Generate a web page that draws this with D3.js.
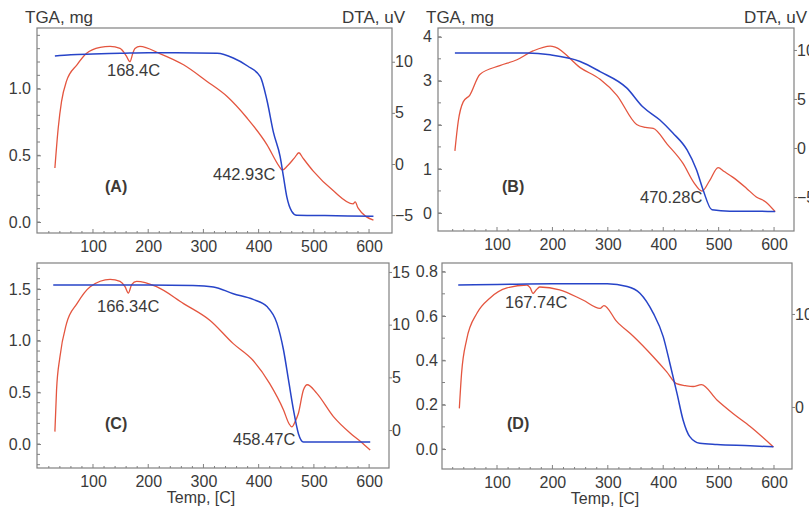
<!DOCTYPE html>
<html><head><meta charset="utf-8">
<script src="https://cdn.jsdelivr.net/npm/d3@7"></script>
<style>
body{margin:0;background:#fff;}
svg{display:block;font-family:"Liberation Sans",Arial,sans-serif;}
</style></head>
<body><svg id="c" width="809" height="507"></svg>
<script>
// ---- data: [temperature C, value] ----
const tempTicks = [100,200,300,400,500,600];

const tgaA = [[31,1.245],[60,1.255],[100,1.26],[150,1.265],[200,1.27],[250,1.27],[325,1.265],[354,1.23],[380,1.17],[403,1.09],[415,0.915],[427,0.67],[439,0.49],[445,0.34],[451,0.19],[460,0.08],[469,0.05],[520,0.048],[608,0.043]];
const dtaA = [[31,-0.4],[37,3.5],[43,6.1],[52,8.1],[71,9.7],[88,10.8],[113,11.4],[131,11.5],[149,11.3],[160,10.6],[167,10.0],[172,10.8],[176,11.3],[185,11.5],[221,10.8],[264,9.7],[306,8.1],[343,6.6],[379,4.5],[415,1.9],[437,-0.2],[443,-0.6],[452,-0.2],[465,0.6],[473,1.1],[480,0.6],[499,-0.7],[535,-2.6],[571,-3.9],[575,-3.7],[580,-4.3],[608,-5.5]];

const tgaB = [[24,3.63],[100,3.63],[154,3.63],[196,3.59],[250,3.44],[286,3.21],[334,2.84],[363,2.41],[394,2.11],[417,1.82],[443,1.43],[460,0.98],[472,0.52],[488,0.07],[520,0.04],[570,0.04],[602,0.03]];
const dtaB = [[24,-0.3],[30,2.7],[39,4.7],[51,5.4],[69,7.5],[105,8.4],[136,9.0],[165,9.9],[196,10.4],[205,10.3],[250,8.2],[286,7.0],[316,5.4],[352,2.4],[368,2.1],[382,2.0],[407,0.4],[436,-1.6],[455,-3.5],[470,-4.4],[484,-3.3],[499,-2.0],[510,-2.4],[526,-3.0],[550,-4.1],[568,-5.0],[585,-5.5],[602,-6.5]];

const tgaC = [[28,1.54],[100,1.54],[200,1.54],[281,1.535],[318,1.52],[354,1.455],[390,1.40],[415,1.33],[433,1.17],[445,0.91],[454,0.62],[463,0.33],[472,0.10],[481,0.02],[540,0.02],[602,0.02]];
const dtaC = [[31,-0.15],[34,3.8],[40,6.9],[52,10.1],[71,12.0],[95,13.6],[131,14.3],[149,14.1],[158,13.6],[164,13.0],[170,13.8],[179,14.1],[215,13.6],[264,12.0],[312,10.4],[354,8.2],[390,6.6],[420,4.4],[445,1.9],[455,0.6],[460,0.3],[466,0.8],[472,1.6],[481,3.8],[488,4.3],[505,3.5],[535,1.3],[566,-0.3],[585,-1.1],[602,-1.9]];

const tgaD = [[30,0.74],[100,0.742],[200,0.745],[299,0.745],[335,0.733],[358,0.703],[382,0.613],[400,0.507],[412,0.387],[425,0.25],[436,0.13],[448,0.056],[466,0.026],[497,0.02],[557,0.015],[599,0.01]];
const dtaD = [[32,-0.15],[36,3.6],[45,7.2],[64,10.1],[87,11.7],[118,12.8],[154,13.1],[160,12.8],[165,12.2],[171,12.6],[177,12.9],[213,12.6],[255,11.5],[286,10.6],[293,10.9],[316,9.2],[346,7.6],[382,5.4],[406,3.8],[424,2.5],[440,2.3],[454,2.2],[469,2.4],[497,0.75],[526,-0.7],[557,-2.1],[599,-4.3]];

// left (TGA) and right (DTA) tick values
const tgaTicksA = [0,0.5,1.0], dtaTicksA = [-5,0,5,10];
const tgaTicksB = [0,1,2,3,4], dtaTicksB = [-5,0,5,10];
const tgaTicksC = [0,0.5,1.0,1.5], dtaTicksC = [0,5,10,15];
const tgaTicksD = [0,0.2,0.4,0.6,0.8], dtaTicksD = [0,10];

// ---- layout ----
const panels = [
  {tga:tgaA,dta:dtaA,lt:tgaTicksA,rt:dtaTicksA,lf:".1f",lminor:0.1,
   box:[37,28,392,233],xd:[-1.4,641.6],ld:[-0.0825,1.455],rd:[-6.75,13.3],
   titles:true,xlabel:false,tag:"(A)",tagPos:[105,192],lpad:6,
   notes:[["168.4C",107,76],["442.93C",213,180]]},
  {tga:tgaB,dta:dtaB,lt:tgaTicksB,rt:dtaTicksB,lf:"d",lminor:0.5,
   box:[438,28,794,231],xd:[-6.5,636],ld:[-0.41,4.2],rd:[-8.47,12.24],
   titles:true,xlabel:false,tag:"(B)",tagPos:[502,192],lpad:6,
   notes:[["470.28C",640,203]]},
  {tga:tgaC,dta:dtaC,lt:tgaTicksC,rt:dtaTicksC,lf:".1f",lminor:0.1,
   box:[37,263,389,468],xd:[-1.4,636],ld:[-0.232,1.752],rd:[-3.6,15.85],
   titles:false,xlabel:true,tag:"(C)",tagPos:[105,429],lpad:6,
   notes:[["166.34C",97,312],["458.47C",233,445]]},
  {tga:tgaD,dta:dtaD,lt:tgaTicksD,rt:dtaTicksD,lf:".1f",lminor:0.1,
   box:[442,263,792,469],xd:[0.7,632.5],ld:[-0.09,0.839],rd:[-6.67,15.48],
   titles:false,xlabel:true,tag:"(D)",tagPos:[507,429],lpad:4,
   notes:[["167.74C",505,308]]}
];

const svg = d3.select("#c");
const txt = "#3a3a3a", frame = "#808080";

panels.forEach(p => {
  const [x0,y0,x1,y1] = p.box;
  const x = d3.scaleLinear().domain(p.xd).range([x0,x1]);
  const yl = d3.scaleLinear().domain(p.ld).range([y1,y0]);
  const yr = d3.scaleLinear().domain(p.rd).range([y1,y0]);
  const g = svg.append("g");

  // minor ticks bottom (inward)
  const xminor = d3.range(20,620,20).filter(v=>v>=p.xd[0]&&v<=p.xd[1]);
  g.selectAll(".xm").data(xminor).enter().append("line")
    .attr("x1",d=>x(d)).attr("x2",d=>x(d)).attr("y1",y1).attr("y2",d=>y1-(d%100===0?4:2))
    .attr("stroke",frame).attr("stroke-width",1);
  // left minor ticks (inward)
  const lminor = d3.range(Math.ceil(p.ld[0]/p.lminor)*p.lminor, p.ld[1], p.lminor);
  g.selectAll(".lm").data(lminor).enter().append("line")
    .attr("x1",x0).attr("x2",x0+3).attr("y1",d=>yl(d)).attr("y2",d=>yl(d))
    .attr("stroke",frame).attr("stroke-width",1);

  // axes
  const bottom = d3.axisBottom(x).tickValues(tempTicks).tickSize(0).tickPadding(8);
  const ba = g.append("g").attr("transform",`translate(0,${y1})`).call(bottom);
  const left = d3.axisLeft(yl).tickValues(p.lt).tickFormat(d3.format(p.lf)).tickSizeInner(-4).tickSizeOuter(0).tickPadding(p.lpad);
  const la = g.append("g").attr("transform",`translate(${x0},0)`).call(left);
  const right = d3.axisRight(yr).tickValues(p.rt).tickFormat(d3.format("d")).tickSizeInner(3).tickSizeOuter(0).tickPadding(0);
  const ra = g.append("g").attr("transform",`translate(${x1},0)`).call(right);
  [ba,la,ra].forEach(a=>{
    a.select(".domain").remove();
    a.selectAll("line").attr("stroke",frame);
    a.selectAll("text").attr("fill",txt).style("font-size","16px").style("font-family","'Liberation Sans',Arial,sans-serif");
  });

  // frame
  g.append("rect").attr("x",x0).attr("y",y0).attr("width",x1-x0).attr("height",y1-y0)
    .attr("fill","none").attr("stroke",frame).attr("stroke-width",1.2);

  // curves
  const lineL = d3.line().x(d=>x(d[0])).y(d=>yl(d[1])).curve(d3.curveMonotoneX);
  const lineR = d3.line().x(d=>x(d[0])).y(d=>yr(d[1])).curve(d3.curveMonotoneX);
  g.append("path").attr("d",lineR(p.dta)).attr("fill","none").attr("stroke","#e4553f").attr("stroke-width",1.3);
  g.append("path").attr("d",lineL(p.tga)).attr("fill","none").attr("stroke","#2744c8").attr("stroke-width",1.5);

  // titles
  if (p.titles) {
    g.append("text").attr("x",x0-12).attr("y",y0-5).text("TGA, mg")
      .attr("fill",txt).style("font-size","17px");
    g.append("text").attr("x",x1+13).attr("y",y0-5).attr("text-anchor","end").text("DTA, uV")
      .attr("fill",txt).style("font-size","17px");
  }
  if (p.xlabel) {
    g.append("text").attr("x",(x0+x1)/2-12).attr("y",y1+35).attr("text-anchor","middle").text("Temp, [C]")
      .attr("fill",txt).style("font-size","16px");
  }
  g.append("text").attr("x",p.tagPos[0]).attr("y",p.tagPos[1]).text(p.tag)
    .attr("fill","#3d3a36").style("font-size","16px").style("font-weight","bold");
  p.notes.forEach(n=>{
    g.append("text").attr("x",n[1]).attr("y",n[2]).text(n[0])
      .attr("fill",txt).style("font-size","16.5px");
  });
});
</script></body></html>
